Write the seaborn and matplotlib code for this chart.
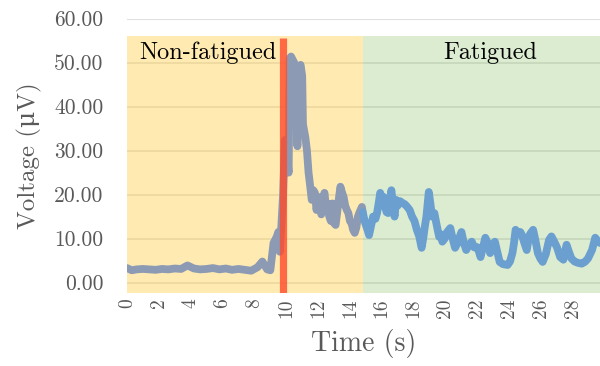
import matplotlib
matplotlib.use("Agg")
import matplotlib.pyplot as plt
import seaborn as sns
import pandas as pd
import numpy as np

# ---- data ----
time_s = [0.0, 0.3, 0.6, 1.0, 1.4, 1.8, 2.2, 2.6, 3.0, 3.4, 3.8, 4.2, 4.6, 5.0, 5.4,
          5.8, 6.2, 6.6, 7.0, 7.4, 7.8, 8.2, 8.5, 8.8, 9.0, 9.2, 9.4, 9.5, 9.6, 9.8,
          9.92, 10.0, 10.15, 10.22, 10.3, 10.5, 10.6, 10.7, 10.75, 10.9, 11.0, 11.05,
          11.2, 11.3, 11.4, 11.5, 11.6, 11.7, 11.8, 11.9, 12.0, 12.1, 12.2, 12.3, 12.4,
          12.5, 12.6, 12.7, 12.8, 12.9, 13.0, 13.1, 13.2, 13.3, 13.4, 13.5, 13.6, 13.7,
          13.8, 13.9, 14.0, 14.1, 14.2, 14.3, 14.4, 14.5, 14.6, 14.75, 14.8,
          14.95, 15.1, 15.2, 15.3, 15.45, 15.6, 15.7, 15.8, 15.9, 16.0, 16.1, 16.2,
          16.3, 16.4, 16.5, 16.6, 16.7, 16.8, 16.9, 17.0, 17.15, 17.3, 17.45, 17.6,
          17.75, 17.9, 18.05, 18.2, 18.35, 18.5, 18.6, 18.7, 18.8, 18.95, 19.05, 19.15,
          19.3, 19.45, 19.6, 19.7, 19.8, 19.95, 20.1, 20.3, 20.45, 20.6, 20.75, 20.9,
          21.0, 21.15, 21.3, 21.45, 21.65, 21.8, 21.97, 22.1, 22.2, 22.35, 22.5, 22.65,
          22.8, 22.95, 23.1, 23.25, 23.4, 23.6, 23.9, 24.05, 24.2, 24.3, 24.4, 24.55,
          24.7, 24.8, 24.95, 25.1, 25.2, 25.3, 25.5, 25.65, 25.8, 25.95, 26.1, 26.3,
          26.5, 26.65, 26.8, 27.0, 27.2, 27.4, 27.6, 27.75, 27.9, 28.1, 28.3, 28.55,
          28.75, 28.95, 29.2, 29.4, 29.55, 29.7]
voltage_uv = [3.3, 2.8, 3.0, 3.1, 3.0, 2.9, 3.1, 3.0, 3.2, 3.1, 3.9, 3.2, 3.0, 3.1, 3.3,
              3.0, 3.2, 2.9, 3.1, 2.9, 2.7, 3.5, 4.8, 3.0, 2.8, 9.0, 10.4, 11.5, 7.0, 20.0,
              32.4, 31.0, 25.0, 51.0, 51.4, 50.0, 48.0, 31.0, 48.0, 49.5, 47.0, 36.0,
              33.0, 30.0, 25.0, 22.0, 18.8, 21.0, 20.4, 16.5, 19.5, 18.1, 15.5, 19.0, 20.4,
              17.0, 18.0, 15.0, 14.0, 18.0, 13.5, 13.1, 16.0, 19.0, 21.8, 20.5, 19.5, 17.5,
              16.5, 15.8, 14.0, 13.5, 12.0, 11.3, 12.5, 15.0, 16.0, 17.2, 16.0,
              13.6, 12.0, 10.8, 12.5, 15.0, 14.5, 15.8, 18.0, 20.4, 19.0, 19.5, 17.2,
              16.0, 15.8, 18.5, 21.0, 18.0, 15.0, 18.8, 17.5, 18.5, 18.1, 17.8, 17.2,
              16.5, 15.0, 14.0, 12.0, 10.5, 7.9, 10.0, 12.7, 15.0, 20.6, 18.0, 15.0,
              15.8, 13.0, 10.4, 11.0, 9.3, 10.0, 11.5, 12.4, 10.0, 7.9, 9.0, 10.5,
              11.5, 9.0, 7.4, 8.5, 9.3, 8.0, 8.1, 7.0, 5.8, 8.0, 10.2, 9.0,
              6.7, 8.5, 9.3, 7.0, 4.7, 4.2, 4.0, 4.8, 6.7, 9.0, 12.0, 11.0,
              11.5, 10.8, 9.0, 7.4, 9.5, 11.0, 12.0, 9.5, 6.7, 5.5, 4.7, 6.5,
              9.7, 10.5, 9.5, 8.0, 5.8, 5.2, 8.6, 7.0, 5.5, 4.8, 4.5, 4.3,
              4.7, 5.5, 7.4, 10.2, 9.5, 9.0]

fatigue_start = 14.8      # start of fatigued phase (s)
stimulus_time = 9.8       # red marker (s)
band_top = 56.0           # top of shaded phase regions (µV)
phase_labels = ["Non-fatigued", "Fatigued"]
x_ticks = list(range(0, 30, 2))
y_ticks = [0, 10, 20, 30, 40, 50, 60]

# ---- build frame ----
t = np.array(time_s)
v = np.array(voltage_uv)
pre = t <= fatigue_start
post = t >= fatigue_start
df = pd.concat([
    pd.DataFrame({"Time": t[pre], "Voltage": v[pre], "Phase": phase_labels[0]}),
    pd.DataFrame({"Time": t[post], "Voltage": v[post], "Phase": phase_labels[1]}),
], ignore_index=True)

sns.set_theme(style="white")
plt.rcParams["font.family"] = ["cmr10", "DejaVu Serif"]
plt.rcParams["axes.unicode_minus"] = False

fig = plt.figure(figsize=(6.0, 3.66), dpi=100)
ax = fig.add_axes([127 / 600, 1 - 292.7 / 366, 473 / 600, (292.7 - 18.7) / 366])

ymin, ymax = -2.3, 60
xmax = 29.7

# shaded phase regions
ax.fill_between([0, fatigue_start], ymin, band_top, color="#FFD966", alpha=0.5,
                linewidth=0, zorder=2)
ax.fill_between([fatigue_start, xmax], ymin, band_top, color="#A9D18E", alpha=0.4,
                linewidth=0, zorder=2)

sns.lineplot(data=df, x="Time", y="Voltage", hue="Phase", sort=False, estimator=None,
             palette={phase_labels[0]: "#8D9AB4", phase_labels[1]: "#6A9FCF"},
             linewidth=5.6, legend=False, ax=ax, zorder=3)
for line in ax.lines:
    line.set_solid_capstyle("round")
    line.set_solid_joinstyle("round")

# stimulus marker
ax.vlines(stimulus_time, ymin, band_top - 0.4, color="#FF4A2A", alpha=0.8,
          linewidth=5.2, zorder=4)

ax.text(5.05, 52.2, phase_labels[0], ha="center", va="center", fontsize=17.5,
        color="black", zorder=5)
ax.text(22.8, 52.2, phase_labels[1], ha="center", va="center", fontsize=17.5,
        color="black", zorder=5)

ax.set_xlim(0, xmax)
ax.set_ylim(ymin, ymax)
ax.set_xticks(x_ticks)
ax.set_xticklabels([str(x) for x in x_ticks], rotation=90, fontsize=14, color="#595959")
ax.set_yticks(y_ticks)
ax.set_yticklabels([f"{y:.2f}" for y in y_ticks], fontsize=15.5, color="#595959")
ax.tick_params(axis="x", length=0, pad=4)
ax.tick_params(axis="y", length=0, pad=17)
ax.yaxis.grid(True, color="#D9D9D9", linewidth=1.2, zorder=1)
ax.xaxis.grid(False)
ax.set_axisbelow(True)
for s in ax.spines.values():
    s.set_visible(False)

ax.set_xlabel("Time (s)", fontsize=20, color="#595959", labelpad=8)
ax.set_ylabel("Voltage (μV)", fontsize=18, color="#595959", labelpad=9)

fig.savefig("out.png", dpi=100)
